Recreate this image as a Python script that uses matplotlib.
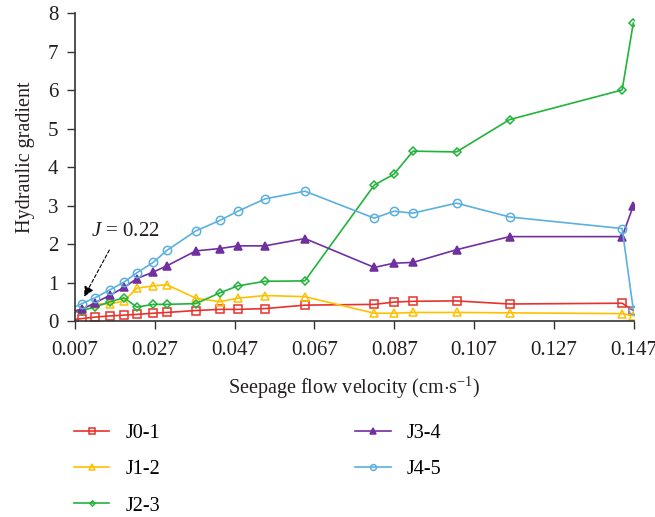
import matplotlib
matplotlib.use("Agg")
import matplotlib.pyplot as plt

plt.rcParams['font.family'] = ['Liberation Serif', 'DejaVu Serif']
plt.rcParams['mathtext.fontset'] = 'custom'
plt.rcParams['mathtext.rm'] = 'Liberation Serif'
plt.rcParams['mathtext.it'] = 'Liberation Serif:italic'

# seepage flow velocity (cm/s), first point lies just left of the axis
vel = [0.0055, 0.0087, 0.0120, 0.0158, 0.0193, 0.0225, 0.0266, 0.0300, 0.0373, 0.0433,
       0.0478, 0.0546, 0.0646, 0.0820, 0.0869, 0.0917, 0.1026, 0.1159, 0.1441, 0.1469]

j01 = [0.03, 0.07, 0.11, 0.14, 0.16, 0.18, 0.21, 0.23, 0.28, 0.31,
       0.31, 0.33, 0.42, 0.44, 0.50, 0.52, 0.53, 0.45, 0.47, 0.28]
j12 = [0.22, 0.33, 0.45, 0.45, 0.53, 0.86, 0.92, 0.95, 0.60, 0.51,
       0.60, 0.67, 0.64, 0.21, 0.21, 0.23, 0.23, 0.22, 0.20, 0.15]
j23 = [0.20, 0.28, 0.37, 0.51, 0.61, 0.37, 0.44, 0.44, 0.46, 0.74,
       0.92, 1.04, 1.05, 3.54, 3.82, 4.42, 4.40, 5.24, 6.01, 7.75]
j34 = [0.24, 0.31, 0.48, 0.68, 0.88, 1.11, 1.28, 1.44, 1.83, 1.89,
       1.96, 1.96, 2.15, 1.40, 1.51, 1.53, 1.86, 2.20, 2.20, 3.00]
j45 = [0.30, 0.46, 0.61, 0.82, 1.02, 1.26, 1.53, 1.84, 2.35, 2.62,
       2.86, 3.18, 3.38, 2.68, 2.86, 2.81, 3.07, 2.71, 2.41, 0.30]

xticks = [0.007, 0.027, 0.047, 0.067, 0.087, 0.107, 0.127, 0.147]
xtick_labels = ['0.007', '0.027', '0.047', '0.067', '0.087', '0.107', '0.127', '0.147']

fig = plt.figure(figsize=(6.55, 5.17), dpi=100)
ax = fig.add_axes([0.1145, 0.3785, 0.853, 0.5957])

# label, values, colour, marker, filled, size
series = [
    ('J0-1', j01, '#E8322B', 's', False, 5.5),
    ('J1-2', j12, '#FFC000', '^', False, 5.5),
    ('J2-3', j23, '#22B33B', 'D', False, 3.8),
    ('J3-4', j34, '#7030A0', '^', True, 6),
    ('J4-5', j45, '#5BB0E0', 'o', False, 6),
]
for lab, vals, col, mk, filled, ms in series:
    ax.plot(vel, vals, color=col, lw=1.2, marker=mk, ms=ms, mew=1.1,
            mfc=col if filled else 'none', mec=col, label=lab)

ax.set_xlim(0.007, 0.147)
ax.set_ylim(0, 8)
ax.set_xticks(xticks)
ax.set_xticklabels(xtick_labels)
ax.set_yticks(range(0, 9))

for s in ['top', 'right']:
    ax.spines[s].set_visible(False)
for s in ['left', 'bottom']:
    ax.spines[s].set_color('#333333')
    ax.spines[s].set_linewidth(1.2)
ax.tick_params(direction='out', length=6, width=1.0, color='#333333',
               labelsize=15, labelcolor='#231f20')
ax.tick_params(axis='x', pad=8)
ax.tick_params(axis='y', pad=6)

ax.set_xlabel(r'Seepage flow velocity (cm$\cdot$s$^{-1}$)', fontsize=14.5,
              color='#231f20', labelpad=11)
ax.set_ylabel('Hydraulic gradient', fontsize=14.5, color='#231f20')
ax.yaxis.set_label_coords(-0.072, 0.532)

ax.annotate('', xy=(0.0093, 0.64), xytext=(0.0156, 1.85),
            arrowprops=dict(arrowstyle='-|>,head_length=0.6,head_width=0.3',
                            linestyle=(0, (3, 2)), color='black', lw=0.8,
                            shrinkA=0, shrinkB=0))
ax.text(0.0196, 2.33, r'$J$ = 0.22', ha='center', va='center', fontsize=15,
        color='#231f20')

fig.legend(loc='upper left', bbox_to_anchor=(74 / 655, 1 - 424 / 517),
           ncol=2, frameon=False, fontsize=14.5, handlelength=1.75,
           handletextpad=0.8, columnspacing=9.7, labelspacing=0.85,
           borderpad=0, borderaxespad=0, markerscale=0.7)

fig.savefig('out.png', dpi=100)
